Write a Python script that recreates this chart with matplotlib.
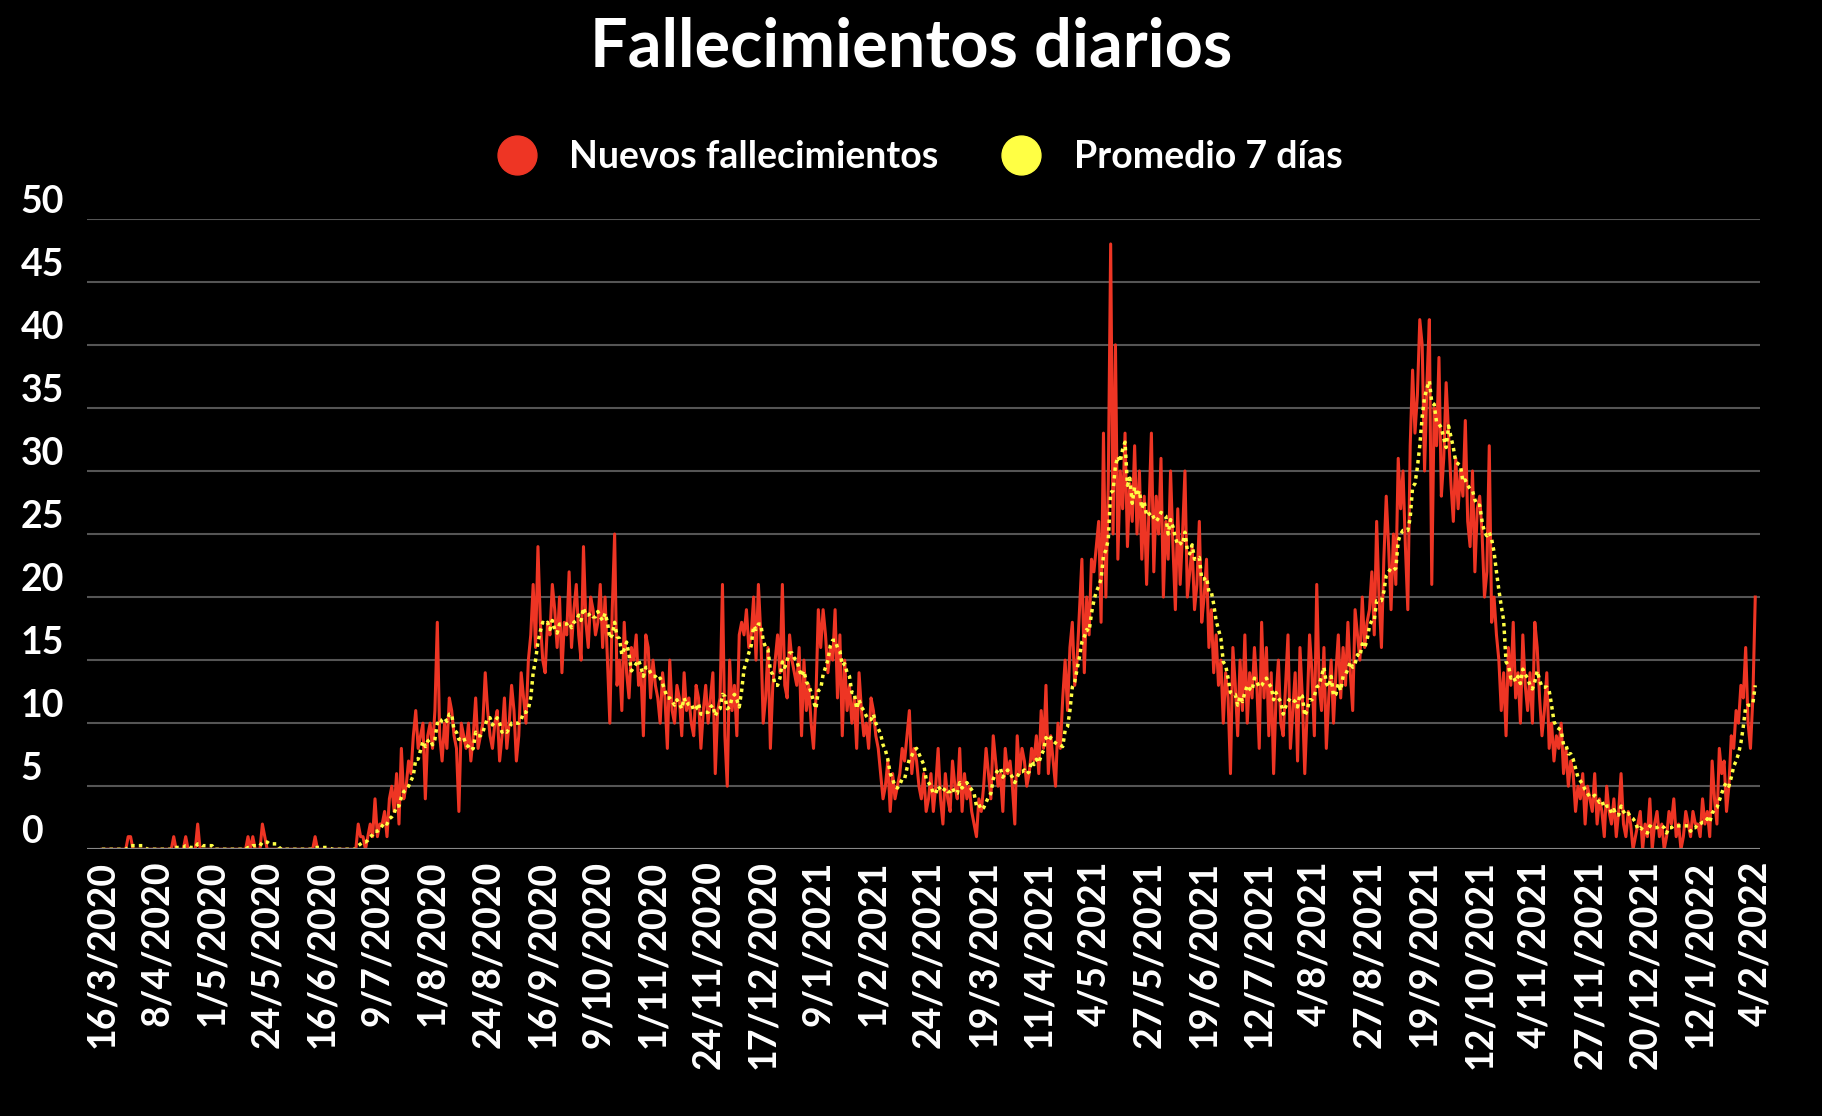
import numpy as np, pandas as pd, matplotlib
matplotlib.use("Agg")
import matplotlib.pyplot as plt

start = "2020-03-16"
s = [
[0,0,0,0,0,0,0,0,0,0,0,1,1,0,0,0,0,0,0,0,0,0,0],
[0,0,0,0,0,0,0,1,0,0,0,0,1,0,0,0,0,2,0,0,0,0,0],
[0,0,0,0,0,0,0,0,0,0,0,0,0,0,0,1,0,1,0,0,0,2,1],
[0,0,0,0,0,0,0,0,0,0,0,0,0,0,0,0,0,0,0,0,1,0,0],
[0,0,0,0,0,0,0,0,0,0,0,0,0,0,0,2,1,1,0,1,2,1,4],
[1,2,2,3,1,4,5,3,6,2,8,4,5,7,6,9,11,8,9,10,4,9,10],
[8,11,18,9,7,10,8,12,11,9,8,3,10,9,8,10,7,9,12,8,9,10,14],
[11,9,8,10,11,7,9,12,8,10,13,11,7,9,14,12,10,15,17,21,16,24,18],
[15,14,18,17,21,19,16,20,14,18,17,22,16,19,21,17,15,24,18,16,20,19,17],
[18,21,16,20,15,10,19,25,13,15,11,18,14,12,16,15,17,13,14,9,17,16,12],
[15,13,12,10,14,12,8,15,11,10,13,12,9,14,11,12,10,9,13,12,8,11,13],
[10,12,14,6,11,12,21,9,5,15,11,13,9,17,18,17,19,16,17,20,15,21,17],
[10,12,16,8,13,15,17,14,21,13,12,17,15,14,13,16,9,15,11,13,10,8,12],
[19,16,19,17,14,16,15,19,12,17,9,15,11,13,10,12,8,14,11,9,10,8,12],
[11,9,8,6,4,5,7,3,6,4,5,6,8,7,9,11,6,8,7,5,4,6,3],
[4,6,3,5,8,4,2,6,4,3,7,5,4,8,3,6,4,5,3,2,1,4,3],
[5,8,6,4,9,7,5,6,3,8,6,7,5,2,9,6,8,7,5,6,8,7,9],
[6,11,8,13,6,9,7,5,10,8,12,15,11,16,18,13,15,19,23,14,20,17,23],
[22,24,26,18,33,20,29,48,25,40,23,30,27,33,24,29,26,32,25,30,23,28,21],
[27,33,22,28,25,31,20,26,23,30,24,19,27,21,25,30,20,22,24,19,21,26,18],
[20,23,16,19,14,17,13,15,10,14,12,6,16,13,9,15,11,17,10,14,12,16,13],
[8,18,12,16,9,14,6,12,15,10,9,13,17,8,11,14,7,16,12,6,11,17,14],
[9,21,13,11,16,8,12,15,10,14,17,12,16,13,18,14,11,19,17,15,20,16,18],
[19,22,17,26,20,16,23,28,24,19,25,21,31,27,30,24,19,32,38,33,36,42,40],
[30,37,42,21,35,32,39,28,31,37,33,29,26,31,27,30,28,34,26,24,30,22,27],
[28,25,20,22,32,18,20,17,15,11,14,9,16,13,18,12,14,10,17,13,11,14,10],
[18,16,12,9,11,14,8,10,7,9,8,10,6,8,5,7,6,3,5,4,6,2,5],
[4,3,6,2,4,3,1,5,3,2,4,1,3,6,2,1,3,2,0,1,2,3,0],
[2,1,4,0,2,3,1,2,0,1,3,2,4,1,2,0,1,3,2,1,3,2,2],
[1,4,2,3,1,7,4,2,8,6,7,3,5,9,8,11,10,13,12,16,10,8,12,20],
]
values = sum(s, [])
dates = pd.date_range(start, periods=len(values), freq="D")
ser = pd.Series(values, index=dates, dtype=float)
avg = ser.rolling(7, min_periods=1).mean()
tick_dates = pd.date_range(start, "2022-02-04", freq="23D")
tick_labels = [f"{d.day}/{d.month}/{d.year}" for d in tick_dates]

plt.rcParams['font.family'] = ['Lato', 'DejaVu Sans']
fig = plt.figure(figsize=(18.22, 11.16), dpi=100, facecolor="black")
ax = fig.add_axes([0.048, 0.239, 0.918, 0.565], facecolor="black")
ax.plot(ser.index, ser.values, color="#ee3524", lw=2.2, label="Nuevos fallecimientos")
ax.plot(avg.index, avg.values, color="#ffff44", lw=2.5, ls=(0, (1, 1.2)), label="Promedio 7 días")
ax.set_ylim(0, 50)
ax.set_xlim(pd.Timestamp("2020-03-10"), pd.Timestamp("2022-02-06"))
ax.set_yticks(range(0, 51, 5))
ax.yaxis.grid(True, color="#555555", lw=1.5)
ax.set_xticks(tick_dates)
ax.set_xticklabels(tick_labels, rotation=90, color="white", fontsize=27, fontweight="bold")
for lbl in ax.get_yticklabels():
    lbl.set_color("white"); lbl.set_fontsize(27); lbl.set_fontweight("bold")
    lbl.set_horizontalalignment("left"); lbl.set_verticalalignment("bottom")
ax.tick_params(axis="y", length=0, pad=48)
ax.tick_params(axis="x", length=0, pad=8)
for sp in ax.spines.values(): sp.set_visible(False)
ax.axhline(0, color="#888888", lw=1.5)
fig.suptitle("Fallecimientos diarios", color="white", fontsize=48, fontweight="bold", y=0.985)
h = [plt.Line2D([], [], marker="o", ls="", color=c, markersize=28) for c in ["#ee3524", "#ffff44"]]
fig.legend(h, ["Nuevos fallecimientos", "Promedio 7 días"], loc="upper center", bbox_to_anchor=(0.5, 0.905),
           ncol=2, frameon=False, labelcolor="white", prop={"size": 27, "weight": "bold"}, handletextpad=0.4, columnspacing=1.2)
fig.savefig("out.png", facecolor="black")
